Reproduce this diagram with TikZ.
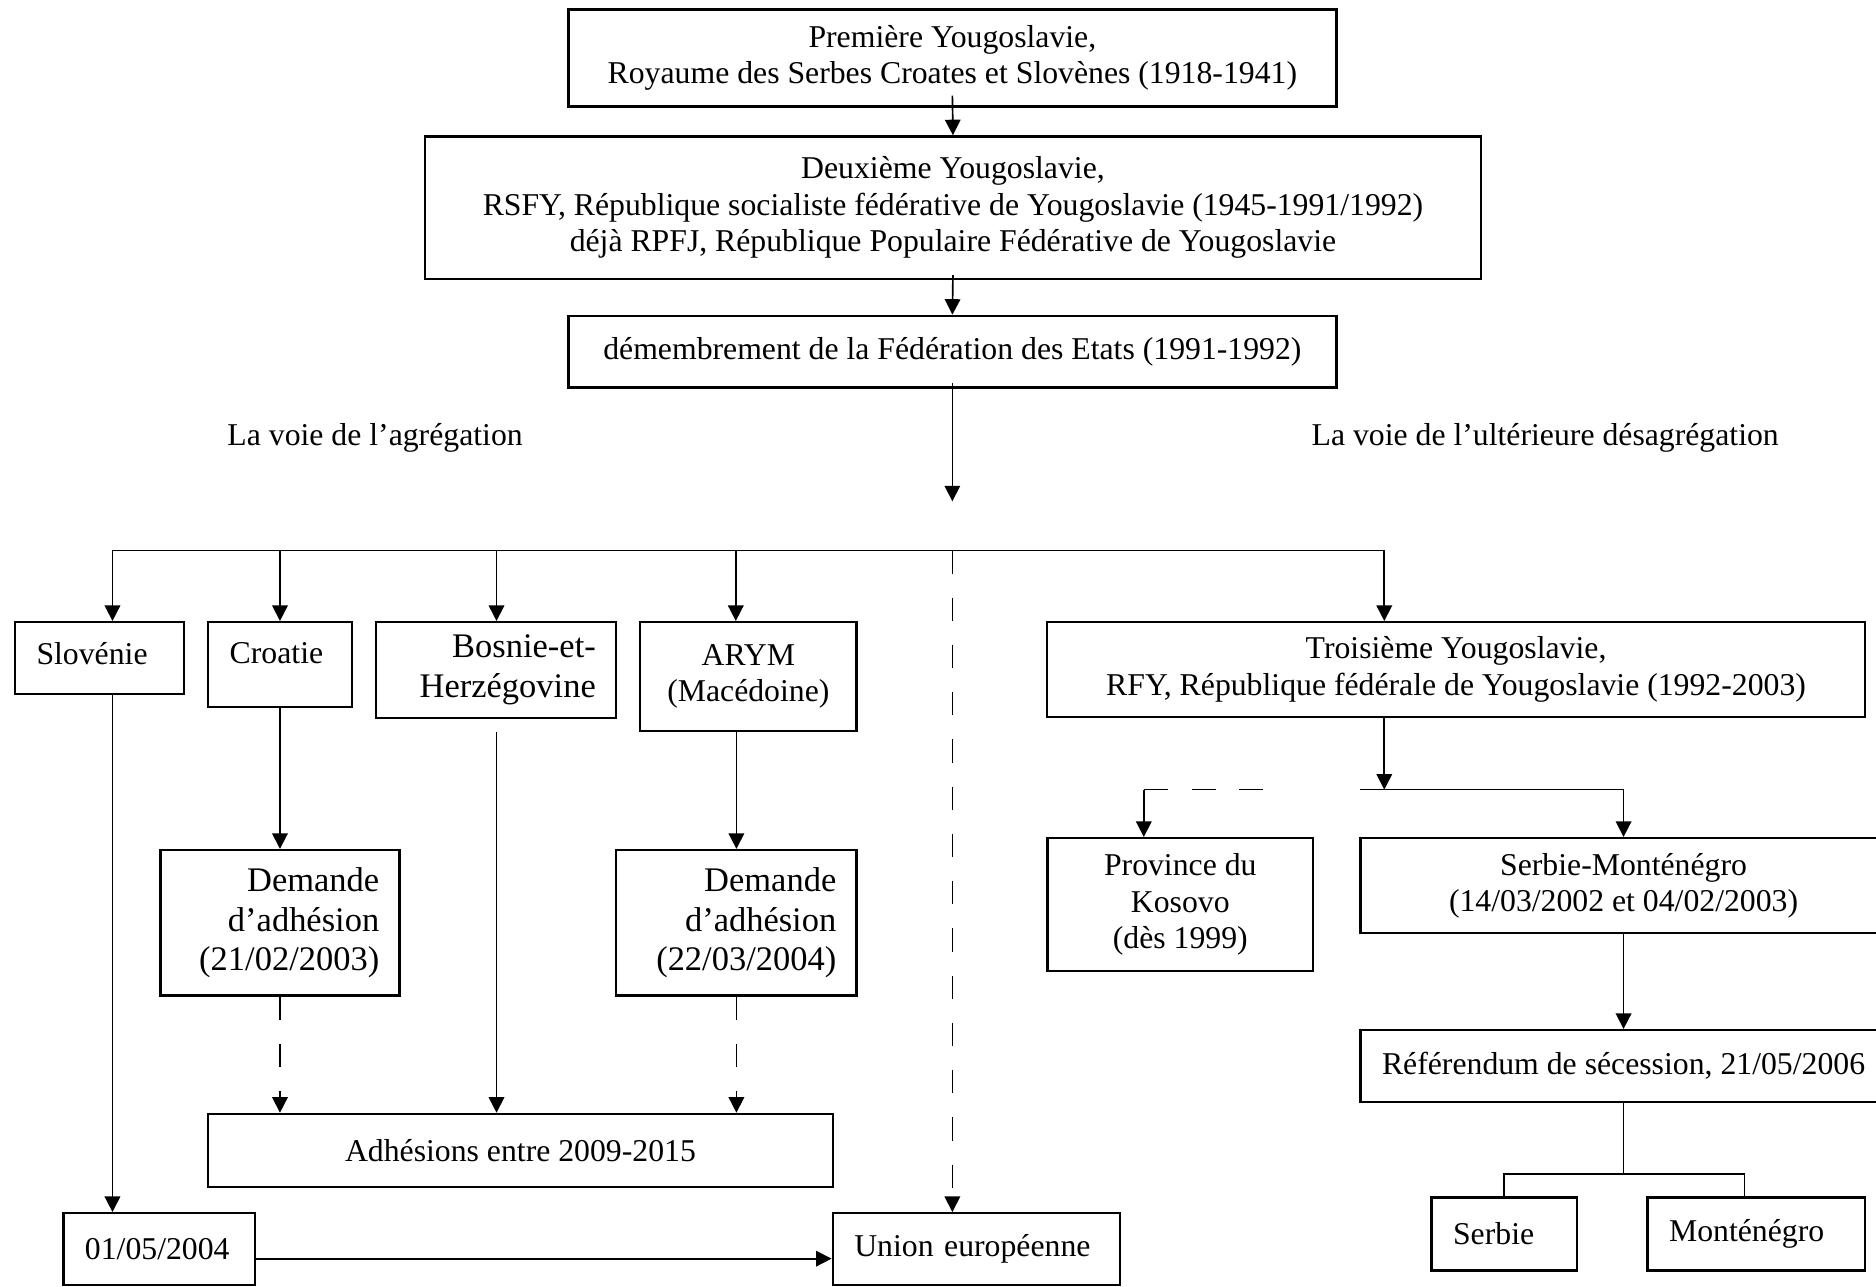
\documentclass[tikz,border=0pt]{standalone}
\usepackage{fontspec}
\setmainfont{Liberation Serif}
\usetikzlibrary{arrows.meta}

\begin{document}
\begin{tikzpicture}[
    x=0.02cm, y=-0.02cm,
    font=\fontsize{15.1}{17.4}\selectfont,
    box/.style={draw, line width=1.1pt, inner sep=0pt, align=center},
    lbox/.style={box, align=left, inner xsep=0.36cm},
    rbox/.style={box, align=right, inner xsep=0.34cm, font=\fontsize{16.4}{19}\selectfont},
    link/.style={line width=0.8pt},
    arr/.style={link, -{Triangle[length=0.26cm, width=0.26cm]}},
    dashlink/.style={link, dash pattern=on 0.39cm off 0.4cm}
]
\useasboundingbox (0,0) rectangle (1568,1075);
\clip (0,0) rectangle (1568,1075);

% Yougoslavie, from the kingdom to the breakup
\node[box, minimum width=12.84cm, minimum height=1.62cm] (prem) at (796,48.5)
    {Première Yougoslavie,\\Royaume des Serbes Croates et Slovènes (1918-1941)};
\node[box, minimum width=17.66cm, minimum height=2.38cm] (deux) at (796.5,173.5)
    {Deuxième Yougoslavie,\\RSFY, République socialiste fédérative de Yougoslavie (1945-1991/1992)\\déjà RPFJ, République Populaire Fédérative de Yougoslavie};
\node[box, minimum width=12.84cm, minimum height=1.2cm] (demb) at (796,294)
    {démembrement de la Fédération des Etats (1991-1992)};
\coordinate (split) at (796,419);

\draw[arr] ([yshift=0.2cm]prem.south) -- (deux.north);
\draw[arr] ([yshift=0.08cm]deux.south) -- (demb.north);
\draw[arr] ([yshift=0.1cm]demb.south) -- (split);

\node (agr) at (313.5,366) {La voie de l’agrégation};
\node (desagr) at (1291.5,366) {La voie de l’ultérieure désagrégation};

% Successor states
\node[lbox, text width=2.11cm, text depth=0.16cm, minimum height=1.2cm] (slov) at (83.25,550) {Slovénie};
\node[lbox, text width=1.68cm, text depth=0.38cm, minimum height=1.42cm] (croa) at (234,555.5) {Croatie};
\node[rbox, text width=3.34cm, minimum height=1.6cm] (bosn) at (414.5,560) {Bosnie-et-\\Herzégovine};
\node[box, minimum width=3.62cm, minimum height=1.82cm] (arym) at (625.5,565.5) {ARYM\\(Macédoine)};
\node[box, minimum width=13.67cm, minimum height=1.58cm] (troi) at (1217,559.5)
    {Troisième Yougoslavie,\\RFY, République fédérale de Yougoslavie (1992-2003)};

\coordinate (b1) at (94,460);
\coordinate (b2) at (234,460);
\coordinate (b3) at (415,460);
\coordinate (bc) at (796,460);
\coordinate (b4) at (615,460);
\coordinate (b5) at (1157,460);

\draw[link] (b1) -- (b5);
\draw[arr] (b1) -- (b1 |- slov.north);
\draw[arr] (b2) -- (b2 |- croa.north);
\draw[arr] (b3) -- (b3 |- bosn.north);
\draw[arr] (b4) -- (b4 |- arym.north);
\draw[arr] (b5) -- (b5 |- troi.north);

% Road to the EU
\node[rbox, text width=3.32cm, minimum height=2.43cm] (dem1) at (234,771.25)
    {Demande\\d’adhésion\\(21/02/2003)};
\node[rbox, text width=3.34cm, minimum height=2.43cm] (dem2) at (615.5,771.25)
    {Demande\\d’adhésion\\(22/03/2004)};
\node[box, minimum width=10.44cm, minimum height=1.22cm] (adh) at (435,961.5)
    {Adhésions entre 2009-2015};
\node[lbox, text width=2.48cm, minimum height=1.2cm] (date) at (133,1044) {01/05/2004};
\node[lbox, text width=4.08cm, minimum height=1.2cm] (union) at (816,1044) {Union européenne};

\draw[arr] (croa) -- (dem1);
\draw[arr] (dem2.north |- arym.south) -- (dem2.north);
\draw[arr, dashlink] (dem1) -- (dem1 |- adh.north);
\draw[arr, dashlink] (dem2) -- (dem2 |- adh.north);
\draw[arr] ([yshift=-0.22cm]bosn.south -| b3) -- (b3 |- adh.north);
\draw[arr] (b1 |- slov.south) -- (b1 |- date.north);
\draw[arr] ([yshift=-0.16cm]date.east) -- ([yshift=-0.16cm]union.west);
\draw[arr, dashlink] (bc) -- (bc |- union.north);

% Third Yougoslavie
\node[box, minimum width=4.44cm, minimum height=2.22cm] (prov) at (986.5,756)
    {Province du\\Kosovo\\(dès 1999)};
\node[box, minimum width=8.8cm, minimum height=1.59cm] (smon) at (1357,740.25)
    {Serbie-Monténégro\\(14/03/2002 et 04/02/2003)};
\node[box, minimum width=8.8cm, minimum height=1.2cm] (refe) at (1357,891)
    {Référendum de sécession, 21/05/2006};
\node[lbox, text width=1.71cm, minimum height=1.22cm] (serb) at (1257.25,1031.5) {Serbie};
\node[lbox, text width=2.92cm, minimum height=1.22cm] (mont) at (1468,1031.5) {Monténégro};

\coordinate (r0) at (1157,660);
\coordinate (r1) at (1137,660);
\coordinate (l0) at (956,660);
\coordinate (l1) at (1056,660);
\coordinate (s0) at (1357,981);
\coordinate (s2) at (1458,981);

\draw[arr] (r0 |- troi.south) -- (r0);
\draw[arr] (r1) -| (smon.north);
\draw[dashlink, dash pattern=on 0.4cm off 0.4cm] (l0) -- (l1);
\draw[arr] (l0) -- (l0 |- prov.north);
\draw[arr] (smon) -- (refe);
\draw[link] (refe) -- (s0);
\draw[link] (serb.north) |- (s2) -- (s2 |- mont.north);

\end{tikzpicture}
\end{document}
